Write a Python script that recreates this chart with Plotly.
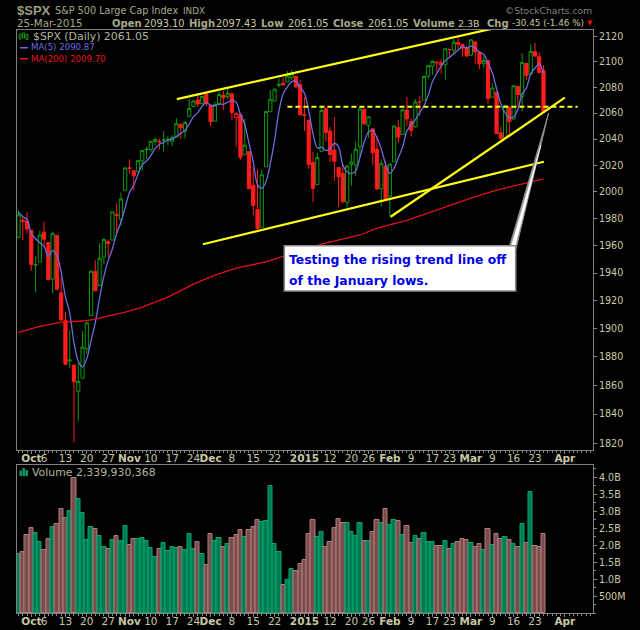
import math
import plotly.graph_objects as go

# ---- data ----
opens = [1966.22,1978.96,1978.21,1971.44,1945.83,1948.03,1970.01,1962.36,1935.55,1967.68,1925.63,1905.65,1877.11,1874.18,1855.95,1864.91,1885.62,1909.38,1941.29,1931.02,1951.59,1962.97,1964.14,1983.29,1979.49,2001.20,2018.21,2015.81,2015.29,2023.33,2032.36,2032.01,2038.20,2037.75,2039.21,2039.74,2038.29,2041.48,2051.16,2045.87,2057.46,2065.07,2070.15,2067.36,2074.78,2065.78,2053.77,2067.45,2073.64,2072.78,2074.84,2056.55,2058.86,2027.92,2030.36,2005.03,1986.71,1973.77,2018.98,2061.04,2069.28,2081.48,2083.25,2084.30,2087.63,2088.49,2082.11,2058.90,2054.44,2022.15,2005.55,2030.61,2063.45,2046.13,2031.58,2018.40,2013.75,1992.25,2020.76,2020.19,2034.30,2062.98,2050.42,2047.86,2032.34,2002.45,2019.35,1996.67,2022.71,2048.86,2043.45,2062.28,2053.47,2049.38,2068.55,2069.98,2088.78,2096.47,2099.16,2099.25,2097.65,2109.83,2109.10,2115.30,2113.91,2110.88,2105.23,2115.76,2107.72,2098.54,2100.91,2072.25,2076.14,2044.69,2041.10,2064.56,2055.35,2080.59,2072.84,2098.69,2090.32,2107.99,2103.94,2093.10]
highs = [1986.37,1981.28,1985.17,1971.44,1952.32,1971.19,1977.84,1962.36,1970.36,1967.68,1936.98,1912.09,1898.71,1874.18,1876.01,1898.16,1905.03,1942.45,1949.31,1961.95,1965.27,1964.64,1985.05,1991.40,1999.40,2018.19,2024.46,2015.98,2023.77,2031.61,2034.26,2038.70,2041.28,2040.33,2046.18,2042.22,2043.07,2056.08,2052.14,2053.84,2071.46,2070.17,2074.21,2073.29,2075.76,2065.78,2068.77,2076.28,2077.34,2079.47,2075.78,2060.60,2058.86,2055.53,2030.36,2018.69,2016.89,2016.75,2061.23,2077.85,2078.76,2086.73,2087.56,2092.70,2093.55,2088.49,2085.58,2072.36,2054.44,2030.25,2029.61,2064.08,2064.43,2049.30,2056.93,2018.40,2021.35,2020.46,2028.94,2038.29,2064.62,2062.98,2057.62,2047.86,2042.49,2024.64,2023.32,2021.66,2050.30,2054.74,2063.55,2072.40,2056.16,2070.86,2073.48,2088.53,2097.03,2101.30,2100.23,2102.13,2110.61,2110.05,2117.94,2119.59,2113.91,2112.74,2117.52,2115.76,2107.72,2104.25,2100.91,2083.49,2076.14,2050.08,2066.41,2064.56,2081.41,2080.59,2106.85,2098.69,2113.92,2114.86,2107.63,2097.43]
lows = [1966.22,1964.04,1968.96,1941.72,1926.03,1948.03,1958.43,1934.87,1925.25,1927.56,1906.05,1874.14,1871.79,1820.66,1835.02,1864.91,1882.30,1909.38,1927.11,1931.02,1946.27,1951.37,1964.14,1969.04,1974.75,2001.20,2013.68,2001.01,2014.42,2015.86,2025.07,2030.17,2035.28,2031.95,2030.44,2035.20,2034.46,2041.48,2040.37,2040.49,2056.75,2065.07,2064.75,2066.62,2065.06,2049.57,2053.77,2066.65,2062.34,2070.81,2054.27,2034.17,2024.26,2027.92,2002.33,1982.26,1972.56,1973.77,2018.98,2061.03,2069.28,2079.77,2081.86,2084.30,2085.75,2079.53,2057.94,2046.04,2017.34,1992.44,2005.55,2030.61,2038.33,2022.58,2008.25,1988.44,1991.47,1988.12,2004.49,2012.04,2026.38,2050.54,2040.97,2019.91,2001.49,1989.18,1993.38,1980.90,2022.71,2036.72,2043.45,2049.97,2041.88,2048.62,2057.99,2069.98,2086.70,2089.80,2092.15,2090.79,2085.44,2103.00,2105.87,2109.89,2103.76,2103.75,2104.50,2098.26,2094.49,2095.22,2067.27,2072.21,2044.16,2039.69,2041.10,2041.17,2055.35,2065.08,2061.23,2085.56,2090.32,2104.42,2091.50,2061.05]
closes = [1982.85,1977.80,1972.29,1946.16,1946.17,1967.90,1964.82,1935.10,1968.89,1928.21,1906.13,1874.74,1877.70,1862.49,1862.76,1886.76,1904.01,1941.28,1927.11,1950.82,1964.58,1961.63,1985.05,1982.30,1994.65,2018.05,2017.81,2012.10,2023.57,2031.21,2031.92,2038.26,2039.68,2038.25,2039.33,2039.82,2041.32,2051.80,2048.72,2052.75,2063.50,2069.41,2067.03,2072.83,2067.56,2053.44,2066.55,2074.33,2071.92,2075.37,2060.31,2059.82,2026.14,2035.33,2002.33,1989.63,1972.74,2012.89,2061.23,2070.65,2078.54,2082.17,2081.88,2088.77,2090.57,2080.35,2058.90,2058.20,2020.58,2002.61,2025.90,2062.14,2044.81,2028.26,2023.03,2011.27,1992.67,2019.42,2022.55,2032.12,2063.15,2051.82,2057.09,2029.55,2002.16,2021.25,1994.99,2020.85,2050.03,2041.51,2062.52,2055.47,2046.74,2068.59,2068.53,2088.48,2096.99,2100.34,2099.68,2097.45,2110.30,2109.66,2115.48,2113.86,2110.74,2104.50,2117.39,2107.78,2098.53,2101.04,2071.26,2079.43,2044.16,2040.24,2065.95,2053.40,2081.19,2074.28,2099.50,2089.27,2108.10,2104.42,2091.50,2061.05]
first_prev_close = 1965.99
ma5 = [1984.8,1981.5,1979.4,1969.0,1965.1,1962.1,1959.5,1952.0,1956.6,1953.0,1940.6,1922.6,1911.1,1889.9,1876.8,1872.9,1878.7,1891.5,1904.4,1922.0,1937.6,1949.1,1957.8,1968.9,1977.6,1988.3,1999.6,2005.0,2013.2,2020.5,2023.3,2027.4,2032.9,2035.9,2037.5,2039.1,2039.7,2042.1,2044.2,2046.9,2051.6,2057.2,2060.3,2065.1,2068.1,2066.1,2065.5,2066.9,2066.8,2068.3,2069.7,2068.4,2058.7,2051.4,2036.8,2022.7,2005.2,2002.6,2007.8,2021.4,2039.2,2061.1,2074.9,2080.4,2084.4,2084.7,2080.1,2075.4,2061.7,2044.1,2033.2,2033.9,2031.2,2032.7,2036.8,2033.9,2020.0,2014.9,2013.8,2015.6,2026.0,2037.8,2045.3,2046.7,2040.8,2032.4,2021.0,2013.8,2017.9,2025.7,2034.0,2046.1,2051.3,2055.0,2060.4,2065.6,2073.9,2084.6,2090.8,2096.6,2101.0,2103.5,2106.5,2109.4,2112.0,2110.8,2112.4,2110.9,2107.8,2105.8,2099.2,2091.6,2078.9,2067.2,2060.2,2056.6,2057.0,2063.0,2074.9,2079.5,2090.5,2095.1,2098.6,2090.87]
ma200_x = [0,5,10,15,18,25,29,35,41,46,51,58,63,71,80,84,91,99,106,112,119,123]
ma200_y = [1897.3,1901.6,1904.6,1905.4,1906.8,1911.8,1915.4,1922.5,1931.9,1938.5,1943.6,1948.1,1953.2,1961.2,1967.9,1972.9,1978.8,1987.7,1995.3,2001.3,2006.6,2009.7]
volume_b = [1.75,1.80,2.30,2.51,2.36,2.10,1.86,2.19,2.54,2.63,3.07,2.80,3.01,3.98,3.36,2.95,2.16,2.54,2.48,2.27,1.95,1.89,2.16,2.27,2.13,2.57,2.01,2.19,2.19,2.22,2.13,1.92,1.66,1.89,2.07,1.83,1.95,1.92,1.95,1.86,2.33,1.89,2.10,1.75,1.42,2.33,2.13,2.22,1.95,2.04,2.22,2.30,2.45,2.25,2.45,2.54,2.75,2.69,2.72,3.75,2.04,1.80,0.83,0.98,1.30,1.25,1.45,1.57,2.33,2.75,2.25,2.39,1.95,2.10,2.51,2.77,2.66,2.66,2.39,2.27,2.66,2.13,2.13,2.39,2.75,2.66,3.07,2.60,2.75,2.72,2.30,2.57,2.07,2.27,2.19,2.36,2.10,2.10,1.98,1.98,2.13,1.89,2.04,2.10,2.19,2.16,2.07,1.95,2.04,1.86,2.48,2.01,2.33,2.19,2.25,2.16,2.04,1.95,2.63,2.07,3.57,1.98,1.95,2.34]

tick_idx = [3,6,11,16,21,26,31,36,41,45,50,55,60,67,73,78,82,87,92,97,101,106,111,116,121,128]
tick_txt = ["<b>Oct</b>","6","13","20","27","<b>Nov</b>","10","17","24","<b>Dec</b>","8","15","22","<b>2015</b>","12","20","26","<b>Feb</b>","9","17","23","<b>Mar</b>","9","16","23","<b>Apr</b>"]
price_ticks = [2120,2100,2080,2060,2040,2020,2000,1980,1960,1940,1920,1900,1880,1860,1840,1820]
vol_ticks = [4.0,3.5,3.0,2.5,2.0,1.5,1.0,0.5]
vol_tick_txt = ["4.0B","3.5B","3.0B","2.5B","2.0B","1.5B","1.0B","500M"]

upper_x, upper_y = [37.1,119.1], [2070.8,2132.4]
lower_x, lower_y = [43.2,123.1], [1961.1,2022.7]
rising_x, rising_y = [87.2,128.0], [1981.4,2071.9]
support_x, support_y = [63.0,131.0], [2064.9,2064.9]
pointer_x, pointer_y = [115.1,116.5,124.2,115.1], [1960.4,1956.8,2060.0,1960.4]
pointer_in_x, pointer_in_y = [115.4,116.2,122.4,115.4], [1958.8,1957.6,2035.4,1958.8]

W, H = 640, 630
L, R = 16.5, 593.0
T1, B1 = 29.5, 450.0
T2, B2 = 465.0, 613.3
TXT = "#c8c8a4"
GREEN, RED = "#0c9a0c", "#ff1c1c"
FONT = "DejaVu Sans"

def px(x):
    return x / W
def py(y):
    return 1 - y / H

n = len(closes)
idx = list(range(n))
prev = [first_prev_close] + closes[:-1]
is_up = [c >= p for c, p in zip(closes, prev)]
is_hollow = [c > o for c, o in zip(closes, opens)]

fig = go.Figure()

def candles(up, hollow):
    sel = [i for i in idx if is_up[i] == up and is_hollow[i] == hollow]
    col = GREEN if up else RED
    style = dict(line=dict(color=col, width=1),
                 fillcolor="rgba(0,0,0,0)" if hollow else col)
    fig.add_trace(go.Candlestick(
        x=sel,
        open=[opens[i] for i in sel], high=[highs[i] for i in sel],
        low=[lows[i] for i in sel], close=[closes[i] for i in sel],
        increasing=style, decreasing=style, whiskerwidth=0,
        showlegend=False, hoverinfo="skip", xaxis="x", yaxis="y"))

for up in (True, False):
    for hollow in (True, False):
        candles(up, hollow)

def line(x, y, color, width, dash="solid", shape="linear", smoothing=None):
    l = dict(color=color, width=width, dash=dash, shape=shape)
    if smoothing is not None:
        l["smoothing"] = smoothing
    fig.add_trace(go.Scatter(x=x, y=y, mode="lines", line=l, showlegend=False,
                             hoverinfo="skip", cliponaxis=False, xaxis="x", yaxis="y"))

line(idx, ma5, "#6c6ce0", 1.3, shape="spline", smoothing=0.8)
line(ma200_x, ma200_y, "#e0101c", 1.3)
YEL = "#ffff14"
line(upper_x, upper_y, YEL, 2.2)
line(lower_x, lower_y, YEL, 2.2)
line(rising_x, rising_y, YEL, 2.2)
line(support_x, support_y, YEL, 2, dash="5px,3px")

fig.add_trace(go.Scatter(x=pointer_x, y=pointer_y, mode="lines", fill="toself",
                         fillcolor="#9a9a9a", line=dict(color="#8c8c8c", width=1),
                         showlegend=False, hoverinfo="skip", xaxis="x", yaxis="y"))
fig.add_trace(go.Scatter(x=pointer_in_x, y=pointer_in_y, mode="lines", fill="toself",
                         fillcolor="#ffffff", line=dict(color="#ffffff", width=0.5),
                         showlegend=False, hoverinfo="skip", xaxis="x", yaxis="y"))

vol_fill = ["#007a50" if u else "#7a4c4c" for u in is_up]
vol_edge = ["#00a874" if u else "#b07c7c" for u in is_up]
fig.add_trace(go.Bar(x=idx, y=volume_b, width=1.0, showlegend=False, hoverinfo="skip",
                     marker=dict(color=vol_fill, line=dict(color=vol_edge, width=1)),
                     xaxis="x2", yaxis="y2"))

xcommon = dict(range=[-0.47, 134.6], tickmode="array", tickvals=tick_idx, ticktext=tick_txt,
               showgrid=False, zeroline=False, ticks="outside", ticklen=3, tickcolor="#888888",
               showline=True, linecolor="#808080", linewidth=1, mirror=True,
               tickfont=dict(family=FONT, size=10.5, color=TXT), tickangle=0, ticklabelstandoff=-5,
               rangeslider=dict(visible=False),
               minor=dict(ticks="outside", ticklen=2, tickcolor="#888888", dtick=1, tick0=0, showgrid=False))
ycommon = dict(side="right", showgrid=False, zeroline=False, ticks="outside", ticklen=3,
               tickcolor="#888888", showline=True, linecolor="#808080", linewidth=1, mirror=True,
               tickfont=dict(family=FONT, size=9.6, color=TXT), tickmode="array")

fig.update_layout(
    width=W, height=H, autosize=False, margin=dict(l=0, r=0, t=0, b=0, pad=0),
    paper_bgcolor="#000000", plot_bgcolor="#000000", showlegend=False,
    boxmode="overlay", boxgap=0.25, boxgroupgap=0, bargap=0,
    xaxis=dict(domain=[px(L), px(R)], anchor="y", **xcommon),
    xaxis2=dict(domain=[px(L), px(R)], anchor="y2", **xcommon),
    yaxis=dict(domain=[py(B1), py(T1)], anchor="x", type="log",
               range=[math.log10(1815.4), math.log10(2125.6)],
               tickvals=price_ticks, ticktext=[str(v) for v in price_ticks], **ycommon),
    yaxis2=dict(domain=[py(B2), py(T2)], anchor="x2", range=[0, 4.36],
                tickvals=vol_ticks, ticktext=vol_tick_txt,
                minor=dict(ticks="outside", ticklen=2, tickcolor="#888888", dtick=0.25, showgrid=False),
                **ycommon),
)

def label(x, y, text, size=10, color=TXT, bold=False, anchor="left", family=FONT):
    fig.add_annotation(xref="paper", yref="paper", x=px(x), y=py(y), text=f"<b>{text}</b>" if bold else text,
                       showarrow=False, xanchor=anchor, yanchor="middle", align="left",
                       font=dict(family=family, size=size, color=color), borderpad=0)

HD = "#a8a88a"
label(16, 10.5, "$SPX", size=13, color="#9c9c80", bold=True, family="Liberation Sans")
label(54, 10.5, "S&amp;P 500 Large Cap Index", size=9.7, color=HD)
label(182, 10.5, "INDX", size=8.8, color=HD)
label(16, 23.5, "25-Mar-2015", size=10.3, color=HD)
label(111, 23.5, "Open", size=10, color=HD, bold=True)
label(143, 23.5, "2093.10", size=9.8)
label(188, 23.5, "High", size=10, color=HD, bold=True)
label(215, 23.5, "2097.43", size=9.8)
label(260, 23.5, "Low", size=10, color=HD, bold=True)
label(287, 23.5, "2061.05", size=9.8)
label(332, 23.5, "Close", size=10, color=HD, bold=True)
label(367, 23.5, "2061.05", size=9.8)
label(412, 23.5, "Volume", size=10, color=HD, bold=True)
label(457, 23.5, "2.3B", size=9.5)
label(486, 23.5, "Chg", size=10, color=HD, bold=True)
label(511, 23.5, "-30.45 (-1.46 %)", size=8.8)
label(590, 23.5, "▼", size=7, color="#e01010", anchor="center")
label(504, 10.5, "©StockCharts.com", size=9.2, color="#808080")

label(32, 36.5, "$SPX (Daily) 2061.05", size=10.9, color="#b4b49a")
label(30, 47.5, "MA(5) 2090.87", size=8.6, color="#6c6ce0")
label(30, 58.5, "MA(200) 2009.70", size=8.6, color="#e8101c")
label(31, 472.5, "Volume 2,339,930,368", size=10.9, color="#b4b49a")

def rect(x0, y0, x1, y1, fill, edge=None, w=0):
    fig.add_shape(type="rect", xref="paper", yref="paper", x0=px(x0), x1=px(x1), y0=py(y0), y1=py(y1),
                  fillcolor=fill, line=dict(color=edge or fill, width=w), layer="above")

# legend keys
rect(20, 47, 28, 48.5, "#6c6ce0")
rect(20, 58, 28, 59.5, "#e8101c")
for a, b in ((19, 34), (22.5, 33), (26, 34.5)):
    rect(a, b, a + 2, b + 5, "rgba(0,0,0,0)", GREEN, 1)
for a, b in ((19.5, 470.5), (22.5, 468), (25.5, 470)):
    rect(a, b, a + 2.4, 476, "#00a070")

# call-out
rect(284.3, 245.7, 515.7, 291, "#ffffff", "#8c8c8c", 1.5)
label(288, 259.5, "Testing the rising trend line off", size=12.4, color="#0000e6", bold=True)
label(288, 280, "of the January lows.", size=12.4, color="#0000e6", bold=True)

fig.write_html("out.html", config={"displayModeBar": False},
               post_script="document.body.style.margin='0';document.body.style.background='#000';")
